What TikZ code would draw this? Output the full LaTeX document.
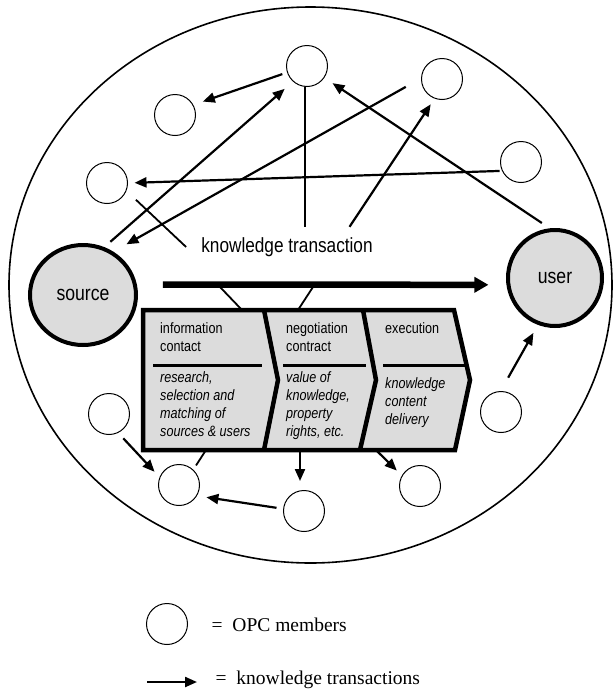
\documentclass[tikz,border=0pt]{standalone}
\usepackage{fontspec}
\setmainfont{Liberation Serif}
\newfontfamily\narrowsans[FakeStretch=0.84]{Liberation Sans}
\usetikzlibrary{arrows.meta,shapes.geometric,calc}
\definecolor{panelgray}{RGB}{220,220,220}
\begin{document}
\begin{tikzpicture}[x=1pt,y=-1pt,
  member/.style={circle,draw,line width=1pt,minimum size=41pt,inner sep=0pt},
  party/.style={ellipse,draw,line width=4pt,fill=panelgray,inner sep=0pt,
    font=\narrowsans\fontsize{21}{24}\selectfont},
  flow/.style={line width=2.2pt,-{Triangle[length=12pt,width=10pt]}},
  link/.style={line width=1.8pt},
  mainflow/.style={line width=6.5pt,-{Triangle[length=14pt,width=15pt]}},
  phaseline/.style={line width=4.5pt,line join=miter},
  phasehead/.style={anchor=north west,align=left,inner sep=0pt,
    font=\narrowsans\fontsize{15}{18.5}\selectfont},
  phasebody/.style={anchor=north west,align=left,inner sep=0pt,
    font=\narrowsans\itshape\fontsize{15}{18}\selectfont},
  keytext/.style={anchor=base west,inner sep=0pt,font=\fontsize{19.5}{22}\selectfont},
]
\useasboundingbox (0,0) rectangle (616,689);

% the surrounding forum
\node[ellipse,draw,line width=1.6pt,minimum width=603pt,minimum height=556pt,inner sep=0pt]
  (forum) at (310.5,285) {};

% members
\node[member] (t)  at (307,66)  {};
\node[member] (ul) at (175,115) {};
\node[member] (ur) at (442,79)  {};
\node[member] (l)  at (107,183) {};
\node[member] (r)  at (521,162) {};
\node[member] (ll) at (109,414) {};
\node[member] (bl) at (179,485) {};
\node[member] (bm) at (304,511) {};
\node[member] (br) at (420,486) {};
\node[member] (rl) at (501,412) {};

% the two parties
\node[party,minimum width=106pt,minimum height=100pt] (src) at (83,295) {source};
\node[party,minimum width=94pt,minimum height=96pt] (usr) at (555,278) {user};

% hub label
\node[inner xsep=15pt,inner ysep=0pt,minimum height=40pt,
  font=\narrowsans\fontsize{20.5}{24}\selectfont] (kt) at (287,247) {knowledge transaction};

% phase chevrons
\coordinate (boxNW) at (143,310);
\coordinate (boxNE) at (454,310);
\coordinate (boxTip) at (470,380);
\coordinate (boxSE) at (455,450);
\coordinate (boxSW) at (143,450);
\filldraw[fill=panelgray,phaseline] (boxNW) -- (boxNE) -- (boxTip) -- (boxSE) -- (boxSW) -- cycle;
\draw[phaseline] (264,310) -- (278,380) -- (264,450);
\draw[phaseline] (363,310) -- (376,380) -- (360,450);
\draw[line width=3pt] (153,365) -- (262,365);
\draw[line width=3pt] (283,365) -- (366,365);
\draw[line width=3pt] (383,365) -- (467,365);

\node[phasehead] (h1) at (160,322) {information\\contact};
\node[phasebody] (d1) at (160,371) {research,\\selection and\\matching of\\sources \& users};
\node[phasehead] (h2) at (286,322) {negotiation\\contract};
\node[phasebody] (d2) at (286,371) {value of\\knowledge,\\property\\rights, etc.};
\node[phasehead] (h3) at (385,322) {execution};
\node[phasebody] (d3) at (385,377) {knowledge\\content\\delivery};

% main transaction
\draw[mainflow,shorten <=26pt,shorten >=18pt] (src.11) -- (usr.188);
\coordinate (hangL) at (220,287);
\coordinate (hangR) at (313,287);
\coordinate (topL) at (242,310);
\coordinate (topR) at (298,310);
\draw[link] (hangL) -- (topL);
\draw[link] (hangR) -- (topR);

% upper transactions
\draw[flow,shorten <=5pt,shorten >=10pt] (t.198) -- (ul.29);
\draw[flow,shorten <=8pt,shorten >=11pt] (src.66) -- (t.228);
\draw[flow,shorten <=17.5pt,shorten >=15pt] (ur.178) -- (src.55);
\draw[flow,shorten <=9.5pt,shorten >=9.7pt] (usr.96) -- (t.-34);
\draw[flow,shorten <=2.3pt,shorten >=6.5pt] (r.205) -- (l.0);
\draw[link,shorten <=13pt] (l.-22) -- (kt.west);
\draw[link] (t.265) -- (t.265 |- kt.north);
\draw[flow,shorten >=6.8pt] ($(kt.north)!0.62!(kt.north east)$) -- (ur.249);

% lower transactions
\coordinate (dropL) at (206,450);
\coordinate (dropM) at (300,450);
\coordinate (dropR) at (376,450);
\draw[link,shorten <=5pt] (bl.47) -- (dropL);
\draw[flow,shorten >=9pt] (dropM) -- (dropM |- bm.north);
\draw[flow,shorten >=7pt] (dropR) -- (br.150);
\draw[flow,shorten <=7.5pt,shorten >=7.3pt] (ll.-64) -- (bl.158);
\draw[flow,shorten <=6.7pt,shorten >=9.5pt] (bm.174) -- (bl.-31);
\draw[flow,shorten <=15.3pt,shorten >=9.2pt] (rl.91) -- (usr.250);

% key
\node[member] (keymember) at (167,624) {};
\node[keytext] (keymembertext) at (211.5,631) {=\ \ OPC members};
\coordinate (keyfrom) at (147,682);
\coordinate (keyto) at (197,682);
\draw[flow] (keyfrom) -- (keyto);
\node[keytext] (keyflowtext) at (215.5,684.3) {=\ \ knowledge transactions};
\end{tikzpicture}
\end{document}
